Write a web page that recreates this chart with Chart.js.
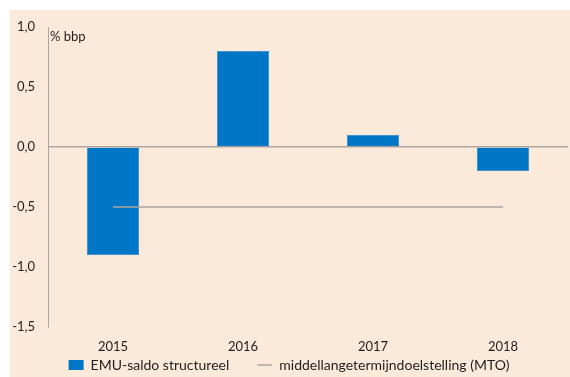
<!DOCTYPE html>
<html>
<head>
<meta charset="utf-8">
<script src="https://cdn.jsdelivr.net/npm/chart.js@4/dist/chart.umd.min.js"></script>
<style>
	html, body{margin:0;padding:0;background:#fff;}
	#wrap{position:absolute;left:10px;top:10px;width:560px;height:367px;background:#fbe9da;}
</style>
</head>
<body>
<div id="wrap"><canvas id="chart" width="560" height="367"></canvas></div>
<script>
const years = ['2015', '2016', '2017', '2018'];
const emuSaldo = [-0.9, 0.8, 0.1, -0.2];
const mto = [-0.5, -0.5, -0.5, -0.5];
const unitLabel = '% bbp';

const blue = '#0077c6';
const grey = '#aba6a1';
const textColor = '#1e1e1e';
const font = 'Lato, "Open Sans", sans-serif';

// small caption next to the top of the y axis
const unitPlugin = {
	id: 'unitLabel',
	afterDraw(chart){
		let ctx = chart.ctx;
		ctx.save();
		ctx.font = '13px ' + font;
		ctx.fillStyle = textColor;
		ctx.textBaseline = 'top';
		ctx.fillText(unitLabel, chart.chartArea.left + 2, chart.chartArea.top + 3);
		ctx.restore();
	}
};

new Chart(document.getElementById('chart'), {
	data: {
		labels: years,
		datasets: [{
			type: 'bar',
			label: 'EMU-saldo structureel',
			data: emuSaldo,
			backgroundColor: blue,
			borderColor: '#3f93d2',
			borderWidth: 1,
			barPercentage: 0.4,
			categoryPercentage: 1,
			order: 2
		}, {
			type: 'line',
			label: 'middellangetermijndoelstelling (MTO)',
			data: mto,
			borderColor: grey,
			borderWidth: 1.5,
			pointRadius: 0,
			fill: false,
			order: 1
		}]
	},
	options: {
		responsive: false,
		animation: false,
		// legend sits a little lower than the default box layout allows
		layout: {padding: {top: 17, right: 2, bottom: -5, left: 0}},
		plugins: {
			tooltip: {enabled: false},
			legend: {
				position: 'bottom',
				labels: {
					font: {family: font, size: 14},
					color: textColor,
					usePointStyle: true,
					boxHeight: 10,
					pointStyleWidth: 15,
					padding: 28,
					generateLabels(chart){
						return chart.data.datasets.map((ds, i) => ({
							text: ds.label,
							datasetIndex: i,
							fillStyle: ds.type == 'bar' ? blue : grey,
							strokeStyle: ds.type == 'bar' ? blue : grey,
							lineWidth: ds.type == 'bar' ? 0 : 1.5,
							pointStyle: ds.type == 'bar' ? 'rect' : 'line',
							fontColor: textColor
						}));
					}
				}
			}
		},
		scales: {
			x: {
				// labels are mirrored so they are not clipped to the thin axis box
				afterFit(scale){ scale.height = 3; },
				grid: {display: false, drawTicks: false},
				border: {display: false},
				ticks: {font: {family: font, size: 13}, color: textColor, mirror: true, padding: -28, maxRotation: 0}
			},
			y: {
				min: -1.5,
				max: 1.0,
				afterFit(scale){
					scale.width = 38;
					scale.paddingTop = 0;
					scale.paddingBottom = 0;
				},
				ticks: {
					stepSize: 0.5,
					font: {family: font, size: 13},
					color: textColor,
					padding: 13,
					callback: (v) => v.toFixed(1).replace('.', ',')
				},
				grid: {
					drawTicks: false,
					lineWidth: 1.5,
					color: (c) => c.tick && c.tick.value === 0 ? grey : 'rgba(0,0,0,0)'
				},
				border: {display: true, color: grey, width: 1}
			}
		}
	},
	plugins: [unitPlugin]
});
</script>
</body>
</html>
